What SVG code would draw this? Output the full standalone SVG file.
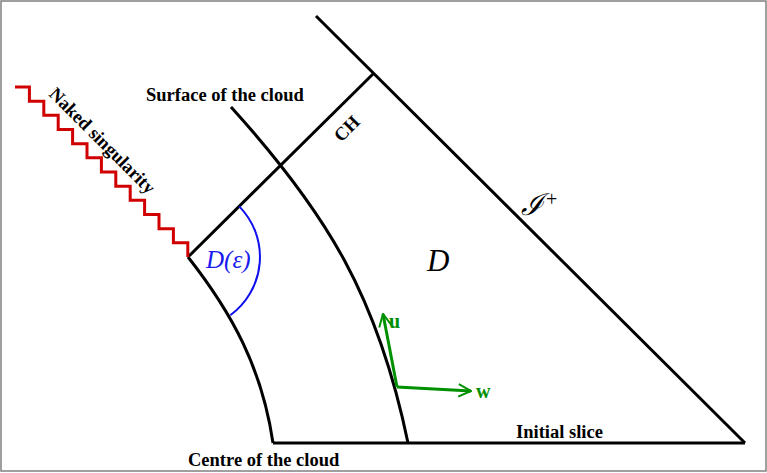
<svg xmlns="http://www.w3.org/2000/svg" width="767" height="473" viewBox="0 0 767 473">
<defs>
<style>
.ln{fill:none;stroke:#000;stroke-width:3;stroke-linejoin:miter}
.lbl{font-family:"Liberation Serif","Times New Roman",serif;font-weight:bold;font-size:18.5px;fill:#000}
.math{font-family:"Liberation Serif","Times New Roman",serif;font-style:italic}
.vec{fill:none;stroke:#009000;stroke-width:3}
.vlbl{font-family:"Liberation Serif","Times New Roman",serif;font-weight:bold;font-size:20px;fill:#009000}
</style>
<marker id="ah" viewBox="0 0 12 12" refX="11" refY="6" markerWidth="5" markerHeight="5" orient="auto" markerUnits="strokeWidth">
<path d="M1,1 L11,6 L1,11" fill="none" stroke="#009000" stroke-width="1.6"/>
</marker>
</defs>
<rect x="1" y="1" width="765" height="470" fill="#fff" stroke="#808080" stroke-width="1.5"/>
<g id="connectors">
<path id="initial-slice" class="ln" d="M273,443 L745,443"/>
<path id="scri-line" class="ln" d="M316,16 L745,443"/>
<path id="ch-line" class="ln" d="M188,257 L374,73"/>
<path id="centre-line" class="ln" d="M273,443 C262,368 232,313 188,257"/>
<path id="surface-line" class="ln" d="M408,443 C378,298 328,214 231,107"/>
</g>
<g id="singularity">
<path fill="none" stroke="#d00000" stroke-width="3" d="M15,87 h14.4 v14.17 h14.4 v14.17 h14.4 v14.17 h14.4 v14.17 h14.4 v14.17 h14.4 v14.17 h14.4 v14.17 h14.4 v14.17 h14.4 v14.17 h14.4 v14.17 h14.4 v14.17 h14.4 v14.17"/>
<text class="lbl" transform="translate(98,145) rotate(45)" text-anchor="middle" font-size="20.5">Naked singularity</text>
</g>
<g id="surface">
<text class="lbl" x="146" y="101">Surface of the cloud</text>
</g>
<g id="centre">
<text class="lbl" x="188" y="466">Centre of the cloud</text>
</g>
<g id="initial">
<text class="lbl" x="516" y="438">Initial slice</text>
</g>
<g id="ch">
<text class="lbl" transform="translate(351,133) rotate(-45)" text-anchor="middle" font-size="21">CH</text>
</g>
<g id="scri">
<text class="math" x="521" y="215" font-size="30" font-family="'DejaVu Sans','Liberation Serif',serif">ℐ</text>
<text x="546" y="206" font-size="20" font-family="'Liberation Serif',serif">+</text>
</g>
<g id="region-d">
<text class="math" x="427" y="271" font-size="31">D</text>
</g>
<g id="d-eps">
<path fill="none" stroke="#1010ee" stroke-width="2" d="M239.2,206.4 A72,72 0 0 1 230.3,315.2"/>
<text class="math" x="206" y="268" font-size="25" fill="#1a1aee">D(ε)</text>
</g>
<g id="vectors">
<path class="vec" d="M397,387 L383,314" marker-end="url(#ah)"/>
<path class="vec" d="M397,387 L471,391" marker-end="url(#ah)"/>
<text class="vlbl" x="389" y="328">u</text>
<text class="vlbl" x="476" y="398">w</text>
</g>
</svg>
